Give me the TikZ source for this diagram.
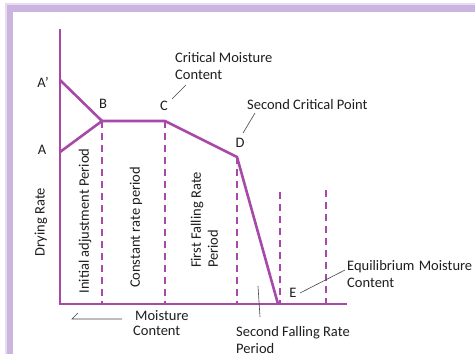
\documentclass[tikz,border=0pt]{standalone}
\usepackage{fontspec}
\setmainfont{Carlito}
\definecolor{pur}{RGB}{166,73,168}
\definecolor{frm}{RGB}{204,180,224}
\definecolor{frmlt}{RGB}{232,220,240}
\definecolor{txt}{RGB}{30,30,30}
\definecolor{ldr}{RGB}{70,70,70}
\begin{document}
\begin{tikzpicture}[x=1pt,y=-1pt,
  curve/.style={draw=pur, line width=2.6pt, line join=miter},
  dline/.style={draw=pur, line width=2.6pt, dash pattern=on 7pt off 5pt},
  lbl/.style={font=\fontsize{14.5}{17}\selectfont, text=txt, inner sep=0pt},
  rlbl/.style={lbl, rotate=90, align=left},
  leader/.style={draw=ldr, line width=0.6pt}]
\useasboundingbox (0,0) rectangle (475,354);
% frame
\fill[frmlt] (5,3) rectangle (475,354);
\fill[frm] (7,5) rectangle (475,354);
\fill[white] (13,12) rectangle (475,354);
% key points
\coordinate (Top) at (60,29);
\coordinate (O) at (60,304);
\coordinate (Xend) at (347,304);
\coordinate (Ap) at (60,80);
\coordinate (A) at (60,152);
\coordinate (B) at (102,121);
\coordinate (C) at (165,121);
\coordinate (D) at (237,157);
\coordinate (E) at (278,304);
\coordinate (V4) at (280,192);
\coordinate (V5) at (326,190);
% dashed verticals
\draw[dline] (B) -- (B |- O);
\draw[dline] (C) -- (C |- O);
\draw[dline] (D) -- (D |- O);
\draw[dline] (V4) -- (V4 |- O);
\draw[dline] (V5) -- (V5 |- O);
% axes
\draw[curve] (Top) -- (O) -- (Xend);
% curves
\draw[curve] (Ap) -- (B);
\draw[curve] (A) -- (B) -- (C) -- (D) -- (E);
% point labels
\node[lbl] (lAp) at (43,82) {A'};
\node[lbl] (lA) at (42,150) {A};
\node[lbl] (lB) at (103,104) {B};
\node[lbl] (lC) at (164,106) {C};
\node[lbl] (lD) at (240,143) {D};
\node[lbl] (lE) at (293,293) {E};
% annotation labels
\node[lbl, anchor=west, align=left] (cmc) at (175,66.5) {Critical Moisture\\Content};
\node[lbl, anchor=west] (scp) at (247,105) {Second Critical Point};
\node[lbl, anchor=west, align=left] (emc) at (347,274) {Equilibrium\hspace{0.3em}Moisture\\Content};
\node[lbl, anchor=west, align=left] (sfrp) at (236,340) {Second Falling Rate\\Period};
\node[lbl, anchor=west, align=left, font=\fontsize{14.5}{15}\selectfont] (mc) at (133,323.5) {\hspace{2pt}Moisture\\Content};
% rotated labels
\node[rlbl] (dr) at (41,222) {Drying Rate};
\node[rlbl] (iap) at (85,221) {Initial adjustment Period};
\node[rlbl] (crp) at (136,227.5) {Constant rate period};
\node[rlbl] (ffrp) at (204.5,220) {First Falling Rate\\Period};
% leader lines
\coordinate (c1) at (172,99);  \coordinate (c2) at (186,85);
\coordinate (d1) at (243,133); \coordinate (d2) at (255,113);
\coordinate (e1) at (300,293); \coordinate (e2) at (345,270);
\coordinate (s1) at (258,286); \coordinate (s2) at (260,317);
\coordinate (m1) at (72,319);  \coordinate (m2) at (122,319); \coordinate (m3) at (78,313);
\draw[leader] (c1) -- (c2);
\draw[leader] (d1) -- (d2);
\draw[leader] (e1) -- (e2);
\draw[leader] (s1) -- (s2);
\draw[leader] (m3) -- (m1) -- (m2);
\end{tikzpicture}
\end{document}
